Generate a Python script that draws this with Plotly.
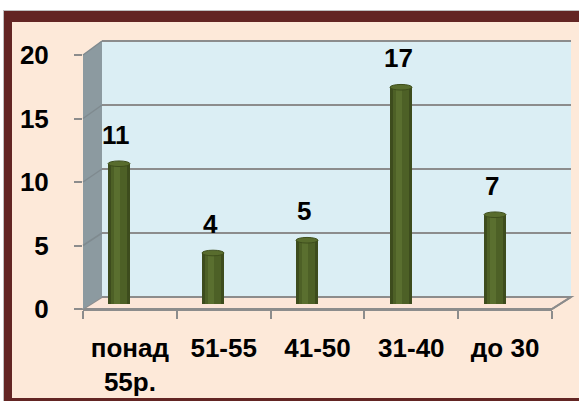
import plotly.graph_objects as go

# ---- data ----
categories = ["понад<br>55р.", "51-55", "41-50", "31-40", "до 30"]
values = [11, 4, 5, 17, 7]
y_ticks = [0, 5, 10, 15, 20]

# ---- geometry (pixels) ----
W, H = 579, 401
FONT = "Liberation Sans"
BG = "#FDE9D9"
RED = "#632523"
WALL = "#DBEEF4"
SIDE = "#8C9AA0"
GRID = "#8C8C8C"

FX0, FX1, FY0, FY20 = 83, 552, 309, 55     # front plane
BX0, BX1, BY0, BY20 = 102, 571, 297, 41    # back plane
EDGE = W + 30


def px(x):
    return x / W


def py(y):
    return 1 - y / H


def fy(v):
    return FY0 - v * (FY0 - FY20) / 20


def by(v):
    return BY0 - v * (BY0 - BY20) / 20


def path(pts):
    return "M " + " L ".join(f"{px(x):.5f},{py(y):.5f}" for x, y in pts) + " Z"


def box(x0, y0, x1, y1, color):
    return dict(type="rect", xref="paper", yref="paper", x0=px(x0), x1=px(x1), y0=py(y1), y1=py(y0),
                fillcolor=color, line=dict(width=0), layer="below")


shapes = []
# outer frame (background, then separate bands)
shapes.append(box(12, 22, EDGE, 398, BG))
shapes.append(box(3, 10, EDGE, 11, "#BFBFBF"))
shapes.append(box(3, 10, 4, H + 10, "#BFBFBF"))
shapes.append(box(4, 11, EDGE, 22, RED))
shapes.append(box(4, 11, 12, H + 10, RED))
shapes.append(box(4, 398, EDGE, H + 10, RED))
# floor
shapes.append(dict(type="path", xref="paper", yref="paper",
                   path=path([(FX0, FY0), (BX0, BY0), (BX1, BY0), (FX1, FY0)]),
                   fillcolor="#FCE6D8", line=dict(color=GRID, width=2), layer="below"))
# back wall
shapes.append(box(BX0, BY20, BX1, BY0, WALL))
# side wall
shapes.append(dict(type="path", xref="paper", yref="paper",
                   path=path([(FX0, FY20), (BX0, BY20), (BX0, BY0), (FX0, FY0)]),
                   fillcolor=SIDE, line=dict(width=0), layer="below"))
# gridlines on back wall and side wall
for v in y_ticks:
    shapes.append(dict(type="line", xref="paper", yref="paper", x0=px(BX0), x1=px(BX1), y0=py(by(v)), y1=py(by(v)),
                       line=dict(color=GRID, width=2), layer="below"))
    if v > 0:
        shapes.append(dict(type="line", xref="paper", yref="paper", x0=px(FX0), x1=px(BX0), y0=py(fy(v)),
                           y1=py(by(v)), line=dict(color="#7F8A8F", width=1.5), layer="below"))
shapes.append(dict(type="line", xref="paper", yref="paper", x0=px(FX1), x1=px(BX1), y0=py(FY0), y1=py(BY0),
                   line=dict(color=GRID, width=2), layer="below"))

# cylinders
BAR_W = 0.234
ELL = 0.22
xs = list(range(len(values)))
for i, v in enumerate(values):
    shapes.append(dict(type="circle", xref="x", yref="y", x0=i - BAR_W / 2, x1=i + BAR_W / 2, y0=-ELL, y1=ELL,
                       fillcolor="#43551E", line=dict(width=0), layer="below"))
    shapes.append(dict(type="circle", xref="x", yref="y", x0=i - BAR_W / 2, x1=i + BAR_W / 2, y0=v - ELL, y1=v + ELL,
                       fillcolor="#586C2D", line=dict(color="#3E4E1C", width=1), layer="above"))

fig = go.Figure()
fig.add_trace(go.Bar(x=xs, y=values, width=BAR_W, marker=dict(color="#3D4C1D", line=dict(width=0)),
                     hoverinfo="skip", xaxis="x", yaxis="y"))
fig.add_trace(go.Bar(x=xs, y=values, width=BAR_W * 0.72, marker=dict(color="#4D6026", line=dict(width=0)),
                     hoverinfo="skip", xaxis="x", yaxis="y"))
fig.add_trace(go.Bar(x=[x - 0.02 for x in xs], y=values, width=BAR_W * 0.3,
                     marker=dict(color="#5A6F2F", line=dict(width=0)),
                     hoverinfo="skip", xaxis="x", yaxis="y"))
# front axes carrier
fig.add_trace(go.Scatter(x=categories, y=values, mode="markers", marker=dict(opacity=0),
                         hoverinfo="skip", xaxis="x2", yaxis="y2"))

annotations = []
for i, v in enumerate(values):
    annotations.append(dict(x=i, y=v, xref="x", yref="y", text=str(v), showarrow=False, yshift=29, xshift=-3,
                            yanchor="middle", font=dict(family=FONT, size=26, color="black", weight="bold")))

tickfont = dict(family=FONT, size=26, color="black", weight="bold")
fig.update_layout(
    width=W, height=H, margin=dict(l=0, r=0, t=0, b=0, pad=0, autoexpand=False),
    paper_bgcolor=BG, plot_bgcolor="rgba(0,0,0,0)",
    showlegend=False, barmode="overlay", bargap=0,
    shapes=shapes, annotations=annotations,
    xaxis=dict(range=[-0.5, 4.5], domain=[px(72), px(542)], visible=False, fixedrange=True, automargin=False),
    yaxis=dict(range=[0, 20], domain=[py(304), py(49)], visible=False, fixedrange=True, automargin=False),
    xaxis2=dict(type="category", categoryarray=categories, range=[-0.5, 4.5], domain=[px(FX0), px(FX1)],
                anchor="y2", showline=True, linecolor=GRID, linewidth=2, ticks="outside", tickson="boundaries",
                ticklen=8, tickcolor=GRID, tickwidth=2, showgrid=False, tickfont=tickfont,
                ticklabelstandoff=15, fixedrange=True, automargin=False),
    yaxis2=dict(range=[0, 20], domain=[py(FY0), py(FY20)], anchor="x2", tickvals=y_ticks,
                ticks="outside", ticklen=8, tickcolor=GRID, tickwidth=2, showgrid=False, zeroline=False,
                showline=False, tickfont=tickfont, ticklabelstandoff=20, fixedrange=True, automargin=False),
)
# white strip above frame
fig.add_shape(type="rect", xref="paper", yref="paper", x0=px(-5), x1=px(EDGE), y0=py(10), y1=py(-5),
              fillcolor="white", line=dict(width=0), layer="below")
fig.add_shape(type="rect", xref="paper", yref="paper", x0=px(-5), x1=px(3), y0=py(H + 10), y1=py(-5),
              fillcolor="white", line=dict(width=0), layer="below")

fig.write_html("out.html", config={"displayModeBar": False},
               post_script="document.body.style.margin='0';document.body.style.padding='0';"
                           "document.body.style.overflow='hidden';")
